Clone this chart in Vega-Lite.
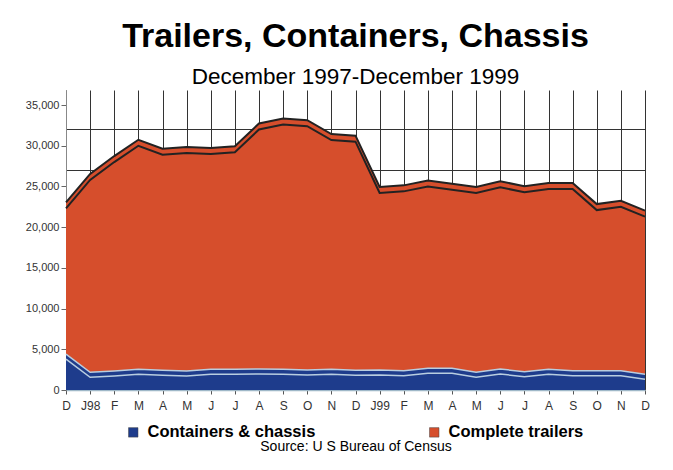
{
  "$schema": "https://vega.github.io/schema/vega-lite/v6.json",
  "width": 579,
  "height": 300,
  "autosize": {"type": "none"},
  "padding": {"left": 66, "top": 90, "right": 28, "bottom": 80},
  "background": "white",
  "config": {"view": {"stroke": null}, "font": "Liberation Sans"},
  "title": {
    "text": "Trailers, Containers, Chassis",
    "subtitle": "December 1997-December 1999",
    "fontSize": 34,
    "fontWeight": "bold",
    "font": "Liberation Sans",
    "color": "black",
    "subtitleFont": "Liberation Sans",
    "subtitleFontSize": 22.5,
    "subtitleColor": "black",
    "subtitlePadding": 12,
    "offset": 2,
    "anchor": "middle"
  },
  "resolve": {"axis": {"y": "independent"}},
  "data": {
    "values": [
      {"month": "Dec 97", "series": "Containers & chassis", "value": 3800},
      {"month": "Dec 97", "series": "Complete trailers", "value": 18500},
      {"month": "Jan 98", "series": "Containers & chassis", "value": 1560},
      {"month": "Jan 98", "series": "Complete trailers", "value": 24240},
      {"month": "Feb 98", "series": "Containers & chassis", "value": 1720},
      {"month": "Feb 98", "series": "Complete trailers", "value": 26280},
      {"month": "Mar 98", "series": "Containers & chassis", "value": 1930},
      {"month": "Mar 98", "series": "Complete trailers", "value": 28070},
      {"month": "Apr 98", "series": "Containers & chassis", "value": 1800},
      {"month": "Apr 98", "series": "Complete trailers", "value": 27100},
      {"month": "May 98", "series": "Containers & chassis", "value": 1720},
      {"month": "May 98", "series": "Complete trailers", "value": 27380},
      {"month": "Jun 98", "series": "Containers & chassis", "value": 1930},
      {"month": "Jun 98", "series": "Complete trailers", "value": 27070},
      {"month": "Jul 98", "series": "Containers & chassis", "value": 1930},
      {"month": "Jul 98", "series": "Complete trailers", "value": 27270},
      {"month": "Aug 98", "series": "Containers & chassis", "value": 1970},
      {"month": "Aug 98", "series": "Complete trailers", "value": 30030},
      {"month": "Sep 98", "series": "Containers & chassis", "value": 1930},
      {"month": "Sep 98", "series": "Complete trailers", "value": 30670},
      {"month": "Oct 98", "series": "Containers & chassis", "value": 1840},
      {"month": "Oct 98", "series": "Complete trailers", "value": 30560},
      {"month": "Nov 98", "series": "Containers & chassis", "value": 1930},
      {"month": "Nov 98", "series": "Complete trailers", "value": 28770},
      {"month": "Dec 98", "series": "Containers & chassis", "value": 1820},
      {"month": "Dec 98", "series": "Complete trailers", "value": 28680},
      {"month": "Jan 99", "series": "Containers & chassis", "value": 1840},
      {"month": "Jan 99", "series": "Complete trailers", "value": 22360},
      {"month": "Feb 99", "series": "Containers & chassis", "value": 1760},
      {"month": "Feb 99", "series": "Complete trailers", "value": 22640},
      {"month": "Mar 99", "series": "Containers & chassis", "value": 2050},
      {"month": "Mar 99", "series": "Complete trailers", "value": 22950},
      {"month": "Apr 99", "series": "Containers & chassis", "value": 2050},
      {"month": "Apr 99", "series": "Complete trailers", "value": 22550},
      {"month": "May 99", "series": "Containers & chassis", "value": 1560},
      {"month": "May 99", "series": "Complete trailers", "value": 22640},
      {"month": "Jun 99", "series": "Containers & chassis", "value": 1960},
      {"month": "Jun 99", "series": "Complete trailers", "value": 22940},
      {"month": "Jul 99", "series": "Containers & chassis", "value": 1640},
      {"month": "Jul 99", "series": "Complete trailers", "value": 22660},
      {"month": "Aug 99", "series": "Containers & chassis", "value": 1920},
      {"month": "Aug 99", "series": "Complete trailers", "value": 22780},
      {"month": "Sep 99", "series": "Containers & chassis", "value": 1760},
      {"month": "Sep 99", "series": "Complete trailers", "value": 22940},
      {"month": "Oct 99", "series": "Containers & chassis", "value": 1760},
      {"month": "Oct 99", "series": "Complete trailers", "value": 20340},
      {"month": "Nov 99", "series": "Containers & chassis", "value": 1760},
      {"month": "Nov 99", "series": "Complete trailers", "value": 20740},
      {"month": "Dec 99", "series": "Containers & chassis", "value": 1310},
      {"month": "Dec 99", "series": "Complete trailers", "value": 19990}
    ]
  },
  "transform": [
    {"stack": "value", "groupby": ["month"], "sort": [{"field": "series", "order": "descending"}], "as": ["v0", "v1"]}
  ],
  "encoding": {
    "x": {
      "field": "month",
      "type": "ordinal",
      "sort": ["Dec 97","Jan 98","Feb 98","Mar 98","Apr 98","May 98","Jun 98","Jul 98","Aug 98","Sep 98","Oct 98","Nov 98","Dec 98","Jan 99","Feb 99","Mar 99","Apr 99","May 99","Jun 99","Jul 99","Aug 99","Sep 99","Oct 99","Nov 99","Dec 99"],
      "scale": {"type": "point", "padding": 0},
      "axis": {
        "title": "Source:  U S Bureau of Census",
        "titleFont": "Liberation Sans",
        "titleFontSize": 14,
        "titleFontWeight": "normal",
        "titleColor": "black",
        "titlePadding": 28,
        "labelAngle": 0,
        "labelExpr": "datum.value == 'Jan 98' ? 'J98' : datum.value == 'Jan 99' ? 'J99' : substring(datum.value, 0, 1)",
        "labelFontSize": 12,
        "labelColor": "#333333",
        "labelPadding": 6,
        "tickSize": 4,
        "tickColor": "#555555",
        "domainColor": "#9fb8c8",
        "domainWidth": 1.5,
        "grid": true,
        "gridColor": "#333333",
        "gridWidth": 1
      }
    }
  },
  "layer": [
    {
      "mark": {"type": "area", "yOffset": 0},
      "encoding": {
        "y": {"datum": 0, "type": "quantitative", "scale": {"domain": [0, 36850], "nice": false, "zero": true},
          "axis": {"orient": "right", "values": [27000, 32000], "labels": false, "ticks": false, "domain": false, "grid": true, "gridColor": "#333333", "gridWidth": 1, "title": null}}
      }
    },
    {
      "transform": [{"filter": "datum.series == 'Complete trailers'"}],
      "mark": {"type": "area", "color": "#d64e2c", "yOffset": -6},
      "encoding": {
        "y": {"field": "v1", "type": "quantitative",
          "axis": {"orient": "left", "values": [0, 5000, 10000, 15000, 20000, 25000, 30000, 35000], "format": ",d", "labelFontSize": 11, "labelColor": "#333333", "tickSize": 5, "tickColor": "#666666", "domainColor": "#888888", "grid": false, "title": null}}
      }
    },
    {
      "transform": [{"filter": "datum.series == 'Complete trailers'"}],
      "mark": {"type": "area", "yOffset": 0},
      "encoding": {
        "y": {"field": "v1", "type": "quantitative", "axis": null},
        "color": {"field": "series", "type": "nominal",
          "scale": {"domain": ["Containers & chassis", "Complete trailers"], "range": ["#1e3c8c", "#d64e2c"]},
          "legend": {"orient": "none", "legendX": 59, "legendY": 334, "direction": "horizontal", "title": null, "symbolType": "square", "symbolSize": 90, "symbolStrokeColor": "#444444", "symbolStrokeWidth": 0.5, "labelFont": "Liberation Sans", "labelFontSize": 16.5, "labelFontWeight": "bold", "labelColor": "black", "labelOffset": 6, "columnPadding": 110, "labelLimit": 300}}
      }
    },
    {
      "transform": [{"filter": "datum.series == 'Complete trailers'"}],
      "mark": {"type": "line", "color": "#222222", "strokeWidth": 2, "yOffset": -6},
      "encoding": {"y": {"field": "v1", "type": "quantitative", "axis": null}}
    },
    {
      "transform": [{"filter": "datum.series == 'Complete trailers'"}],
      "mark": {"type": "line", "color": "#222222", "strokeWidth": 2},
      "encoding": {"y": {"field": "v1", "type": "quantitative", "axis": null}}
    },
    {
      "transform": [{"filter": "datum.series == 'Containers & chassis'"}],
      "mark": {"type": "area", "color": "#1e3c8c", "yOffset": -5},
      "encoding": {"y": {"field": "v1", "type": "quantitative", "axis": null}}
    },
    {
      "transform": [{"filter": "datum.series == 'Containers & chassis'"}],
      "mark": {"type": "area", "color": "#1e3c8c"},
      "encoding": {"y": {"field": "v1", "type": "quantitative", "axis": null}}
    },
    {
      "transform": [{"filter": "datum.series == 'Containers & chassis'"}],
      "mark": {"type": "line", "color": "#b8cde0", "strokeWidth": 1.5, "yOffset": -5},
      "encoding": {"y": {"field": "v1", "type": "quantitative", "axis": null}}
    },
    {
      "transform": [{"filter": "datum.series == 'Containers & chassis'"}],
      "mark": {"type": "line", "color": "#b8cde0", "strokeWidth": 1.5},
      "encoding": {"y": {"field": "v1", "type": "quantitative", "axis": null}}
    }
  ]
}
